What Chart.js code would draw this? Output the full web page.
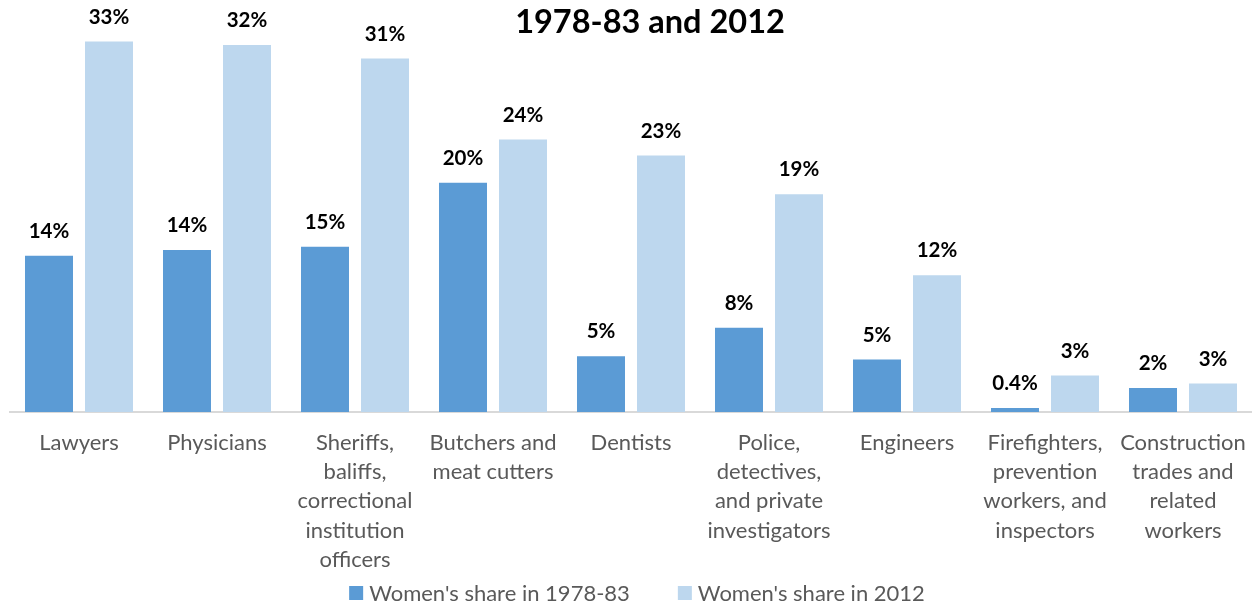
<!DOCTYPE html>
<html>
<head>
<meta charset="utf-8">
<script src="https://cdn.jsdelivr.net/npm/chart.js@4.4.0/dist/chart.umd.min.js"></script>
<style>
  html, body { margin: 0; padding: 0; background: #fff; }
  #wrap { width: 1252px; height: 603px; position: relative; }
</style>
</head>
<body>
<div id="wrap"><canvas id="c" width="1252" height="603"></canvas></div>
<script>
const categories = [
  ["Lawyers"],
  ["Physicians"],
  ["Sheriffs,", "baliffs,", "correctional", "institution", "officers"],
  ["Butchers and", "meat cutters"],
  ["Dentists"],
  ["Police,", "detectives,", "and private", "investigators"],
  ["Engineers"],
  ["Firefighters,", "prevention", "workers, and", "inspectors"],
  ["Construction", "trades and", "related", "workers"]
];
const share1978 = [13.7, 14.2, 14.5, 20.1, 4.9, 7.4, 4.6, 0.35, 2.1];
const share2012 = [32.5, 32.2, 31.0, 23.9, 22.5, 19.1, 12.0, 3.2, 2.5];
const labels1978 = ["14%", "14%", "15%", "20%", "5%", "8%", "5%", "0.4%", "2%"];
const labels2012 = ["33%", "32%", "31%", "24%", "23%", "19%", "12%", "3%", "3%"];
const seriesNames = ["Women's share in 1978-83", "Women's share in 2012"];
const titleText = "1978-83 and 2012";

const FONT = "Lato, 'Open Sans', sans-serif";

const barLabelPlugin = {
  id: 'barLabels',
  afterDatasetsDraw(chart) {
    const ctx = chart.ctx;
    ctx.save();
    ctx.font = "bold 20.5px " + FONT;
    ctx.fillStyle = "#000000";
    ctx.textAlign = "center";
    ctx.textBaseline = "alphabetic";
    chart.data.datasets.forEach((ds, di) => {
      const meta = chart.getDatasetMeta(di);
      meta.data.forEach((bar, i) => {
        ctx.fillText(ds.valueLabels[i], bar.x, bar.y - 18);
      });
    });
    ctx.restore();
  }
};

const titlePlugin = {
  id: 'topTitle',
  afterDraw(chart) {
    const ctx = chart.ctx;
    ctx.save();
    ctx.font = "bold 32.5px " + FONT;
    ctx.fillStyle = "#000000";
    ctx.textAlign = "center";
    ctx.textBaseline = "alphabetic";
    ctx.fillText(titleText, 650, 33);
    ctx.restore();
  }
};

const legendPlugin = {
  id: 'bottomLegend',
  afterDraw(chart) {
    const ctx = chart.ctx;
    ctx.save();
    ctx.font = "22px " + FONT;
    ctx.textBaseline = "middle";
    ctx.textAlign = "left";
    const box = 14, gapText = 6, gapItem = 48, cy = 593;
    const widths = chart.data.datasets.map(ds => ctx.measureText(ds.label).width);
    let total = 0;
    widths.forEach((w, i) => { total += box + gapText + w + (i < widths.length - 1 ? gapItem : 0); });
    let x = 637 - total / 2;
    chart.data.datasets.forEach((ds, i) => {
      ctx.fillStyle = ds.backgroundColor;
      ctx.fillRect(x, cy - box / 2, box, box);
      ctx.fillStyle = '#595959';
      ctx.fillText(ds.label, x + box + gapText, cy + 1);
      x += box + gapText + widths[i] + gapItem;
    });
    ctx.restore();
  }
};

new Chart(document.getElementById('c'), {
  type: 'bar',
  data: {
    labels: categories,
    datasets: [
      { label: seriesNames[0], data: share1978, valueLabels: labels1978,
        backgroundColor: '#5B9BD5', borderWidth: 0 },
      { label: seriesNames[1], data: share2012, valueLabels: labels2012,
        backgroundColor: '#BDD7EE', borderWidth: 0 }
    ]
  },
  options: {
    responsive: false,
    animation: false,
    devicePixelRatio: 1,
    layout: { padding: { top: 13, left: 10, right: 0, bottom: 0 } },
    datasets: { bar: { categoryPercentage: 0.8696, barPercentage: 0.8 } },
    plugins: {
      legend: { display: false },
      tooltip: { enabled: false },
      title: { display: false }
    },
    scales: {
      x: {
        grid: { display: false, drawTicks: false },
        border: { display: true, color: '#d9d9d9', width: 2 },
        ticks: {
          color: '#595959',
          font: { family: FONT, size: 22, lineHeight: 1.33 },
          maxRotation: 0, minRotation: 0, autoSkip: false,
          padding: 16
        },
        afterFit(scale) {
          scale.height = 191;
          scale.paddingLeft = 0;
          scale.paddingRight = 0;
        }
      },
      y: {
        display: false,
        min: 0, max: 35
      }
    }
  },
  plugins: [barLabelPlugin, titlePlugin, legendPlugin]
});
</script>
</body>
</html>
